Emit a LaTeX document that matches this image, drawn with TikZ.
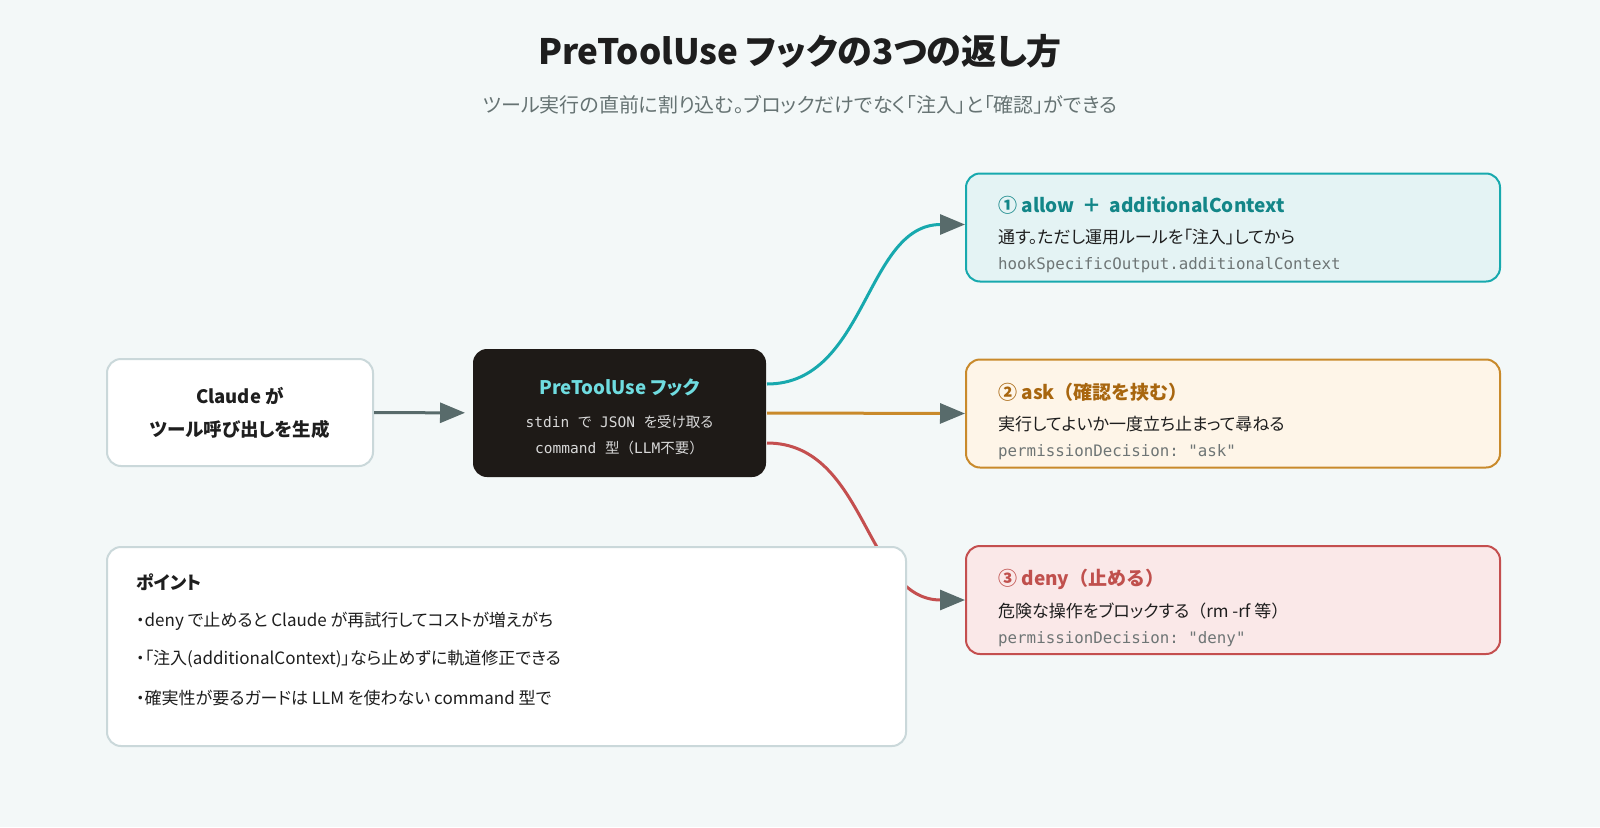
\documentclass[tikz,border=0pt]{standalone}
\usepackage{fontspec}
\setmainfont{Noto Sans CJK JP}[RawFeature=+palt]
\newfontfamily\jpwide{Noto Sans CJK JP}
\setmonofont{DejaVu Sans Mono}
\usetikzlibrary{arrows.meta}

\definecolor{bgcol}{HTML}{F3F8F8}
\definecolor{edgegrey}{HTML}{CAD8DA}
\definecolor{arrowgrey}{HTML}{586B6B}
\definecolor{hookfill}{HTML}{1E1A17}
\definecolor{hookcyan}{HTML}{6FDCE0}
\definecolor{monolight}{HTML}{D8D8D8}
\definecolor{tealline}{HTML}{17A9AE}
\definecolor{tealfill}{HTML}{E4F3F4}
\definecolor{tealtext}{HTML}{138688}
\definecolor{orline}{HTML}{C98A2B}
\definecolor{orfill}{HTML}{FEF5E8}
\definecolor{ortext}{HTML}{A8660F}
\definecolor{redline}{HTML}{C44F4F}
\definecolor{redfill}{HTML}{FAE8E8}
\definecolor{redtext}{HTML}{C0504D}
\definecolor{textdark}{HTML}{1E1E1E}
\definecolor{subgrey}{HTML}{667373}
\definecolor{monogrey}{HTML}{6E7575}

\newcommand{\fs}[1]{\fontsize{#1}{#1}\selectfont}

\begin{document}
\begin{tikzpicture}[
    x=1pt, y=-1pt,
    box/.style={rounded corners=14pt, line width=2pt, inner sep=0pt},
    lightbox/.style={box, draw=edgegrey, fill=white},
    resbox/.style={box, minimum width=534pt, minimum height=108pt},
    headtxt/.style={anchor=west, inner sep=0pt, font=\jpwide\bfseries\fs{19}},
    bodytxt/.style={anchor=west, inner sep=0pt, text=textdark, font=\fs{17}},
    codetxt/.style={anchor=west, inner sep=0pt, text=monogrey, font=\ttfamily\fs{15.8}},
    link/.style={line width=3pt,
      -{Triangle[length=25pt,width=20pt,color=arrowgrey,fill=arrowgrey]}}
  ]
    % background
    \fill[bgcol] (0,0) rectangle (1600,827);
    \node[font=\bfseries\fs{35}, text=textdark] (title) at (800,51)
      {PreToolUse フックの3つの返し方};
    \node[font=\fs{20}, text=subgrey] (subtitle) at (800,105)
      {ツール実行の直前に割り込む。ブロックだけでなく「注入」と「確認」ができる};

    % Claude -> hook
    \node[lightbox, minimum width=266pt, minimum height=107pt] (claude) at (240,412.5) {};
    \node[align=center, text=textdark, font=\bfseries\fontsize{18.5}{33}\selectfont]
      (claudetxt) at (claude) {Claude が\\ツール呼び出しを生成};
    \node[box, fill=hookfill, minimum width=293pt, minimum height=128pt] (hook) at (619.5,413) {};
    \node[text=hookcyan, font=\bfseries\fs{18.7}] (hooktitle) at (619.5,388) {PreToolUse フック};
    \node[text=monolight, font=\fs{14.5}] (hookin) at (619.5,422)
      {{\ttfamily stdin }で{\ttfamily\ JSON }を受け取る};
    \node[text=monolight, font=\jpwide\fs{14.5}] (hookcmd) at (619.5,448)
      {{\ttfamily command }型（{\ttfamily LLM}不要）};

    % three answers
    \node[resbox, draw=tealline, fill=tealfill] (allow) at (1233,227.5) {};
    \node[headtxt, text=tealtext] (allowhead) at (998,205)
      {① allow\hspace{8pt}＋\hspace{8pt}additionalContext};
    \node[bodytxt] (allowbody) at (998,237) {通す。ただし運用ルールを「注入」してから};
    \node[codetxt] (allowcode) at (998,265) {hookSpecificOutput.additionalContext};

    \node[resbox, draw=orline, fill=orfill] (ask) at (1233,413.5) {};
    \node[headtxt, text=ortext] (askhead) at (998,392) {② ask（確認を挟む）};
    \node[bodytxt] (askbody) at (998,424) {実行してよいか一度立ち止まって尋ねる};
    \node[codetxt] (askcode) at (998,452) {permissionDecision: "ask"};

    \node[resbox, draw=redline, fill=redfill] (deny) at (1233,600) {};
    \node[headtxt, text=redtext] (denyhead) at (998,579) {③ deny（止める）};
    \node[bodytxt] (denybody) at (998,611) {危険な操作をブロックする{\jpwide （}rm -rf 等{\jpwide ）}};
    \node[codetxt] (denycode) at (998,639) {permissionDecision: "deny"};

    % connectors
    \draw[link, draw=arrowgrey, shorten >=7pt] (claude) -- (hook);
    \draw[link, draw=tealline] ([yshift=29pt]hook.east)
      .. controls +(100,0) and +(-100,0) .. ([yshift=3pt]allow.west);
    \draw[link, draw=orline] (hook.east) -- (ask.west);
    \draw[link, draw=redline] ([yshift=-30pt]hook.east)
      .. controls +(100,0) and +(-100,0) .. (deny.west);

    % points, drawn over the red curve
    \node[lightbox, minimum width=799pt, minimum height=199pt] (point) at (506.5,646.5) {};
    \node[anchor=west, inner sep=0pt, text=textdark, font=\bfseries\fs{18}] (pointhead) at (136,582) {ポイント};
    \node[bodytxt] (point1) at (136,621) {・deny で止めると Claude が再試行してコストが増えがち};
    \node[bodytxt] (point2) at (136,659) {・「注入(additionalContext)」なら止めずに軌道修正できる};
    \node[bodytxt] (point3) at (136,698) {・確実性が要るガードは LLM を使わない command 型で};
\end{tikzpicture}
\end{document}
